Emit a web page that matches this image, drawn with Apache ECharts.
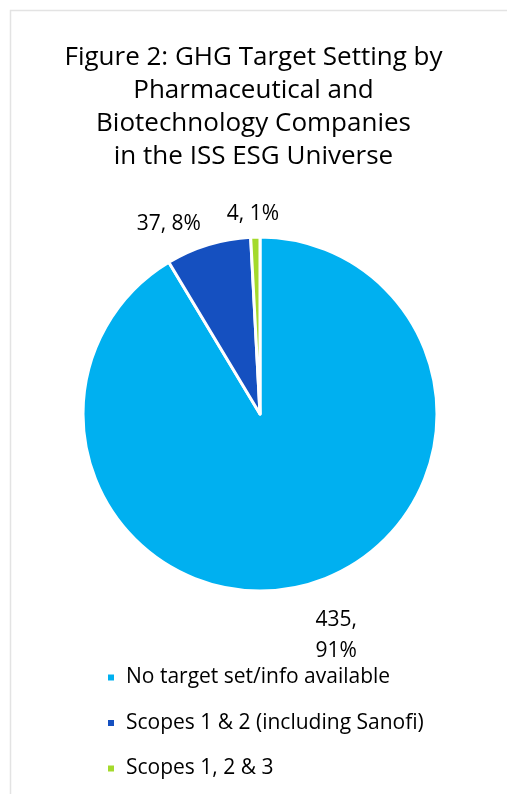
<!DOCTYPE html>
<html><head><meta charset="utf-8">
<script src="https://cdn.jsdelivr.net/npm/echarts@6/dist/echarts.min.js"></script>
<style>html,body{margin:0;padding:0;background:#fff}#c{width:507px;height:794px}</style>
</head><body><div id="c"></div>
<script>
const titleText = 'Figure 2: GHG Target Setting by\nPharmaceutical and\nBiotechnology Companies\nin the ISS ESG Universe';
const categories = ['No target set/info available', 'Scopes 1 & 2 (including Sanofi)', 'Scopes 1, 2 & 3'];
const values = [435, 37, 4];
const colors = ['#00B0F0', '#1550C0', '#A4DA2C'];
const labelFormats = ['{c},\n{d}%', '{c}, {d}%', '{c}, {d}%'];
const labelShift = [[0, 39], [48, -34], [29, -11]];

const font = '"Open Sans", "Liberation Sans", sans-serif';
const chart = echarts.init(document.getElementById('c'), null, {renderer: 'canvas'});
chart.setOption({
  animation: false,
  graphic: [{type: 'rect', shape: {x: 10.5, y: 10.5, width: 520, height: 800}, style: {fill: 'none', stroke: '#E3E3E3', lineWidth: 1.5}, silent: true}],
  title: {text: titleText, left: 'center', top: 36, textStyle: {fontFamily: font, fontSize: 26, fontWeight: 'normal', color: '#000', lineHeight: 33}},
  legend: {orient: 'vertical', left: 101, top: 662, itemWidth: 8, itemHeight: 8, itemGap: 24.5, icon: 'rect',
    textStyle: {fontFamily: font, fontSize: 21, lineHeight: 21, color: '#000', padding: [0, 0, 0, 6]},
    data: categories},
  series: [{
    type: 'pie', center: [260, 414], radius: 177, startAngle: 90, clockwise: true,
    percentPrecision: 0,
    itemStyle: {borderColor: '#fff', borderWidth: 3},
    labelLine: {show: false, length: 12, length2: 0},
    label: {show: true, position: 'outside', fontFamily: font, fontSize: 21, color: '#000', lineHeight: 31, align: 'center'},
    labelLayout: function (p) { const s = labelShift[p.dataIndex]; return {dx: s[0], dy: s[1]}; },
    data: categories.map((n, i) => ({name: n, value: values[i], itemStyle: {color: colors[i]}, label: {formatter: labelFormats[i]}}))
  }]
});
</script></body></html>
